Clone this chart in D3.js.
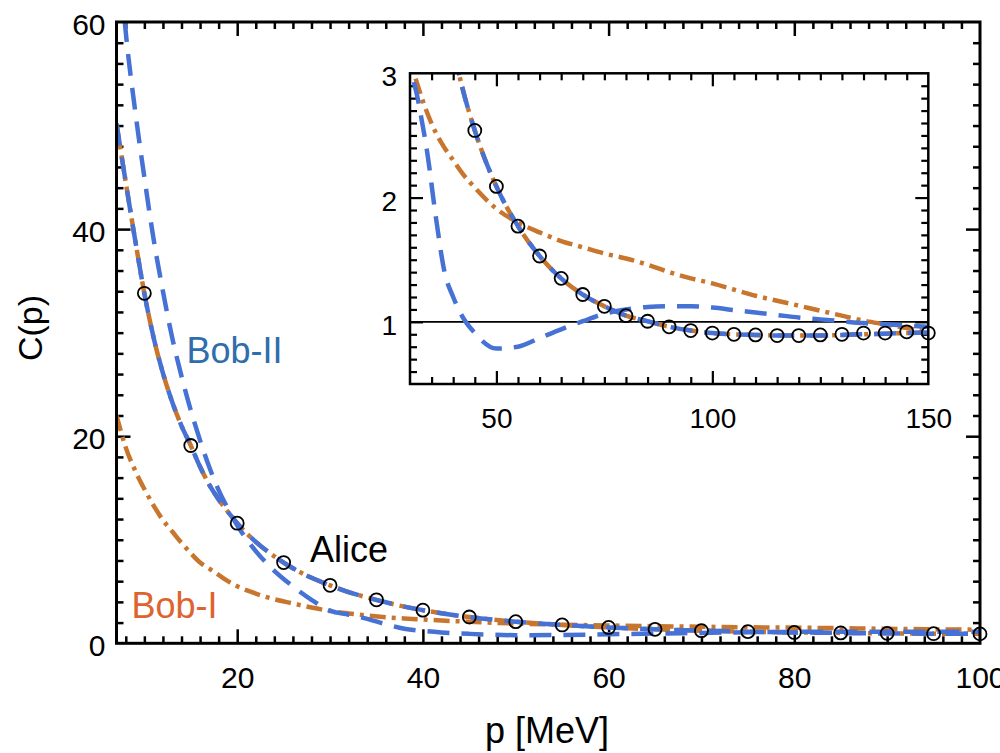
<!DOCTYPE html>
<html>
<head>
<meta charset="utf-8">
<script src="https://cdn.jsdelivr.net/npm/d3@7"></script>
<style>
  html, body { margin: 0; padding: 0; background: #fff; }
  svg { display: block; font-family: "Liberation Sans", Arial, Helvetica, sans-serif; }
</style>
</head>
<body>
<svg id="chart" width="1000" height="753"></svg>
<script>
// ---------------- data ----------------
const pGrid = [7, 8, 9, 10, 11, 12, 13, 14, 15, 16, 17, 18, 19, 20, 22, 24, 26, 28, 30, 32, 34, 36, 38, 40, 42, 45,
               50, 55, 60, 65, 70, 75, 80, 85, 90, 95, 100, 105, 110, 115, 120, 125, 130, 135, 140, 145, 150];

// curve fitted to Alice (drawn both as Bob-I orange and Bob-II blue, overlapping)
const fitValues = [50.2, 44.5, 39.0, 33.8, 29.5, 26.1, 23.3, 21.0, 19.1, 17.05, 15.3, 13.9, 12.7, 11.6, 9.8, 8.4, 7.25, 6.33, 5.6, 4.95, 4.42, 3.96, 3.54, 3.2, 2.9, 2.54,
                   2.09, 1.77, 1.53, 1.35, 1.22, 1.125, 1.05, 1.005, 0.96, 0.93, 0.91, 0.90, 0.895, 0.89, 0.89, 0.89, 0.895, 0.90, 0.905, 0.91, 0.915];

// Bob-I (other parameter set), orange dash-dot
const bobIValues = [22.0, 18.9, 16.7, 14.9, 13.3, 11.9, 10.8, 9.7, 8.7, 7.8, 7.2, 6.6, 6.0, 5.5, 4.8, 4.25, 3.85, 3.45, 3.12, 2.88, 2.68, 2.52, 2.40, 2.30, 2.20, 2.08,
                    1.91, 1.80, 1.72, 1.65, 1.60, 1.55, 1.51, 1.46, 1.40, 1.35, 1.31, 1.26, 1.21, 1.17, 1.13, 1.09, 1.05, 1.01, 0.98, 0.95, 0.92];

// Bob-II (other parameter set), blue dashed
const bobIIValues = [70, 59, 51.5, 45, 39, 34, 29.5, 25.8, 22.5, 19.6, 17.0, 14.8, 13.0, 11.4, 8.9, 7.0, 5.5, 4.2, 3.15, 2.76, 2.36, 1.84, 1.40, 1.20, 1.05, 0.91,
                     0.785, 0.80, 0.87, 0.94, 1.005, 1.065, 1.10, 1.12, 1.125, 1.125, 1.115, 1.095, 1.075, 1.055, 1.035, 1.02, 1.005, 0.99, 0.98, 0.97, 0.96];

// Alice points
const aliceP = [10, 15, 20, 25, 30, 35, 40, 45, 50, 55, 60, 65, 70, 75, 80, 85, 90, 95, 100,
                105, 110, 115, 120, 125, 130, 135, 140, 145, 150];
const aliceC = [33.8, 19.1, 11.6, 7.8, 5.6, 4.2, 3.2, 2.54, 2.09, 1.77, 1.53, 1.35, 1.22, 1.125, 1.05, 1.005, 0.96, 0.93, 0.91,
                0.90, 0.895, 0.89, 0.89, 0.895, 0.90, 0.91, 0.91, 0.92, 0.91];

// ticks
const mainXMajor = [20, 40, 60, 80, 100];
const mainYMajor = [0, 20, 40, 60];
const insetXMajor = [50, 100, 150];
const insetYMajor = [1, 2, 3];

// ---------------- styles ----------------
const BLUE = "#4671d5";
const ORANGE = "#c8762e";
const BOB2_TXT = "#2f6dab";
const BOB1_TXT = "#dd6330";
const DASH = "22,12";
const DASHDOT = "16,6,4,6";
const LW = 4.5;

const svg = d3.select("#chart");

function series(vals) { return pGrid.map((p, i) => ({p: p, c: vals[i]})); }
const fitS = series(fitValues), bob1S = series(bobIValues), bob2S = series(bobIIValues);
const alice = aliceP.map((p, i) => ({p: p, c: aliceC[i]}));

function range(a, b, s) { const r = []; for (let v = a; v <= b + 1e-9; v += s) r.push(+v.toFixed(4)); return r; }

function drawPanel(g, x, y, opt) {
  const [x0, x1] = x.range(), [y0, y1] = y.range(); // y0 bottom, y1 top
  const id = opt.id;
  g.append("clipPath").attr("id", id).append("rect")
    .attr("x", x0).attr("y", y1).attr("width", x1 - x0).attr("height", y0 - y1);
  g.append("rect").attr("x", x0).attr("y", y1).attr("width", x1 - x0).attr("height", y0 - y1)
    .attr("fill", "#fff");

  // ticks
  const isMajX = v => opt.xMajor.some(m => Math.abs(m - v) < 1e-6);
  const isMajY = v => opt.yMajor.some(m => Math.abs(m - v) < 1e-6);
  const xMin = opt.xMinor.filter(v => !isMajX(v) && v > x.domain()[0] && v < x.domain()[1]);
  const yMin = opt.yMinor.filter(v => !isMajY(v) && v > y.domain()[0] && v < y.domain()[1]);
  const xMaj = opt.xMajor.filter(v => v > x.domain()[0] && v < x.domain()[1]);
  const yMaj = opt.yMajor.filter(v => v > y.domain()[0] && v < y.domain()[1]);

  const tickStyle = sel => { sel.select(".domain").remove(); sel.selectAll("line").attr("stroke", "#000").attr("stroke-width", opt.tw); };

  // bottom
  g.append("g").attr("transform", `translate(0,${y0})`)
    .call(d3.axisBottom(x).tickValues(xMin).tickSize(-opt.minor).tickFormat("")).call(tickStyle);
  g.append("g").attr("transform", `translate(0,${y0})`)
    .call(d3.axisBottom(x).tickValues(opt.xMajor).tickSize(0).tickPadding(opt.xPad).tickFormat(d3.format("d")))
    .call(s => { s.select(".domain").remove(); s.selectAll("text").attr("font-size", opt.fs).attr("fill", "#000").attr("font-family", null); });
  g.append("g").attr("transform", `translate(0,${y0})`)
    .call(d3.axisBottom(x).tickValues(xMaj).tickSize(-opt.major).tickFormat("")).call(tickStyle);
  // top
  g.append("g").attr("transform", `translate(0,${y1})`)
    .call(d3.axisTop(x).tickValues(xMin).tickSize(-opt.minor).tickFormat("")).call(tickStyle);
  g.append("g").attr("transform", `translate(0,${y1})`)
    .call(d3.axisTop(x).tickValues(xMaj).tickSize(-opt.major).tickFormat("")).call(tickStyle);
  // left
  g.append("g").attr("transform", `translate(${x0},0)`)
    .call(d3.axisLeft(y).tickValues(yMin).tickSize(-opt.minor).tickFormat("")).call(tickStyle);
  g.append("g").attr("transform", `translate(${x0},0)`)
    .call(d3.axisLeft(y).tickValues(yMaj).tickSize(-opt.major).tickFormat("")).call(tickStyle);
  g.append("g").attr("transform", `translate(${x0},0)`)
    .call(d3.axisLeft(y).tickValues(opt.yMajor).tickSize(0).tickPadding(opt.yPad).tickFormat(d3.format("d")))
    .call(s => { s.select(".domain").remove(); s.selectAll("text").attr("font-size", opt.fs).attr("fill", "#000").attr("dy", opt.yDy).attr("font-family", null); });
  // right
  g.append("g").attr("transform", `translate(${x1},0)`)
    .call(d3.axisRight(y).tickValues(yMin).tickSize(-opt.minor).tickFormat("")).call(tickStyle);
  g.append("g").attr("transform", `translate(${x1},0)`)
    .call(d3.axisRight(y).tickValues(yMaj).tickSize(-opt.major).tickFormat("")).call(tickStyle);

  const plot = g.append("g").attr("clip-path", `url(#${id})`);
  if (opt.refLine) {
    plot.append("line").attr("x1", x0).attr("x2", x1).attr("y1", y(1)).attr("y2", y(1))
      .attr("stroke", "#000").attr("stroke-width", 1.6);
  }
  const line = d3.line().x(d => x(d.p)).y(d => y(d.c)).curve(d3.curveMonotoneX);
  const clipData = s => s.filter(d => d.p >= x.domain()[0] - 10 && d.p <= x.domain()[1] + 10);
  plot.append("path").datum(clipData(bob1S)).attr("d", line).attr("fill", "none")
    .attr("stroke", ORANGE).attr("stroke-width", LW).attr("stroke-dasharray", DASHDOT);
  plot.append("path").datum(clipData(fitS)).attr("d", line).attr("fill", "none")
    .attr("stroke", ORANGE).attr("stroke-width", LW).attr("stroke-dasharray", DASHDOT);
  plot.append("path").datum(clipData(bob2S)).attr("d", line).attr("fill", "none")
    .attr("stroke", BLUE).attr("stroke-width", LW).attr("stroke-dasharray", DASH);
  plot.append("path").datum(clipData(fitS)).attr("d", line).attr("fill", "none")
    .attr("stroke", BLUE).attr("stroke-width", LW).attr("stroke-dasharray", DASH);

  // frame
  g.append("rect").attr("x", x0).attr("y", y1).attr("width", x1 - x0).attr("height", y0 - y1)
    .attr("fill", "none").attr("stroke", "#000").attr("stroke-width", opt.fw);

  // Alice circles (unclipped)
  g.append("g").selectAll("circle")
    .data(alice.filter(d => d.p >= opt.pMin && d.p <= x.domain()[1] && d.c <= y.domain()[1]))
    .join("circle").attr("cx", d => x(d.p)).attr("cy", d => y(d.c)).attr("r", opt.r)
    .attr("fill", "none").attr("stroke", "#000").attr("stroke-width", 1.8);
}

// ---------------- main panel ----------------
const xMain = d3.scaleLinear().domain([7, 100]).range([116.5, 980]);
const yMain = d3.scaleLinear().domain([0, 60]).range([643.3, 22]);
const gMain = svg.append("g");
drawPanel(gMain, xMain, yMain, {
  id: "clipMain", xMajor: mainXMajor, yMajor: mainYMajor,
  xMinor: range(8, 98, 2), yMinor: range(2, 58, 2),
  major: 14, minor: 7, tw: 2.5, fw: 3, fs: 30, xPad: 23, yPad: 11, yDy: "0.42em", r: 6.5, pMin: 10
});

// labels in main panel
svg.append("text").attr("x", 186.5).attr("y", 363).attr("font-size", 36).attr("fill", BOB2_TXT).text("Bob-II");
svg.append("text").attr("x", 310).attr("y", 561.5).attr("font-size", 36).attr("fill", "#000").text("Alice");
svg.append("text").attr("x", 131.5).attr("y", 618).attr("font-size", 36).attr("fill", BOB1_TXT).text("Bob-I");

// axis titles
svg.append("text").attr("x", 547).attr("y", 743).attr("text-anchor", "middle").attr("font-size", 36).attr("fill", "#000").text("p [MeV]");
svg.append("text").attr("transform", "translate(42,328) rotate(-90)").attr("text-anchor", "middle")
  .attr("font-size", 34).attr("fill", "#000").text("C(p)");

// ---------------- inset ----------------
const xIn = d3.scaleLinear().domain([30, 150]).range([410, 928.3]);
const yIn = d3.scaleLinear().domain([0.5, 3]).range([384, 73.3]);
const gIn = svg.append("g");
drawPanel(gIn, xIn, yIn, {
  id: "clipInset", xMajor: insetXMajor, yMajor: insetYMajor,
  xMinor: range(35, 145, 5), yMinor: range(0.6, 2.9, 0.1),
  major: 13, minor: 7, tw: 2.2, fw: 2.5, fs: 28, xPad: 24, yPad: 13, yDy: "0.45em", r: 6.5, pMin: 45, refLine: true
});
</script>
</body>
</html>
